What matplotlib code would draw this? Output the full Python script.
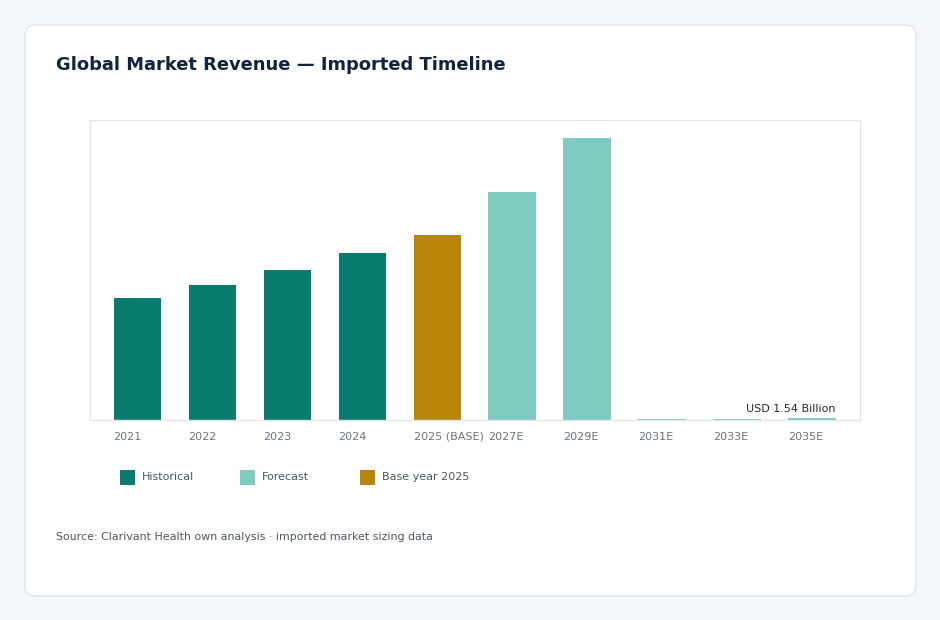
import matplotlib
matplotlib.use("Agg")
import matplotlib.pyplot as plt
from matplotlib.patches import FancyBboxPatch
import numpy as np

# Revenue timeline (chart units)
years = ["2021", "2022", "2023", "2024", "2025 (BASE)", "2027E", "2029E", "2031E", "2033E", "2035E"]
revenue = [122, 135, 150, 167, 185, 228, 282, 1.2, 1.4, 1.54]
kind = ["hist", "hist", "hist", "hist", "base", "fc", "fc", "fc", "fc", "fc"]
last_label = "USD 1.54 Billion"

colors = {"hist": "#0a7c6e", "fc": "#7fcac1", "base": "#b8860b"}
legend_names = [("hist", "Historical"), ("fc", "Forecast"), ("base", "Base year 2025")]

fig = plt.figure(figsize=(9.4, 6.2), dpi=100)
fig.patch.set_facecolor("#f4f7fa")

# white card behind everything
card = FancyBboxPatch((0.25, 0.24), 8.91, 5.71,
                      boxstyle="round,pad=0,rounding_size=0.1",
                      transform=fig.dpi_scale_trans,
                      facecolor="white", edgecolor="#dfe3e8", linewidth=1, zorder=-5)
fig.patches.append(card)

ax = fig.add_axes([90 / 940, 1 - 420 / 620, 770 / 940, 300 / 620])
ax.set_zorder(2)
ax.set_facecolor("white")

x = np.arange(len(years))
w = 0.627
ax.bar(x, revenue, width=w, color=[colors[k] for k in kind], zorder=2)

ax.set_xlim(-0.627, 9.64)
ax.set_ylim(0, 300)
ax.set_yticks([])
ax.set_xticks([])
for s in ax.spines.values():
    s.set_color("#e2e6ea")
    s.set_linewidth(1)

# category labels, left edge on the bar's left edge, common baseline
for xi, lab in zip(x, years):
    ax.text(xi - w / 2, -19.5 / 300, lab, transform=ax.get_xaxis_transform(),
            ha="left", va="baseline", fontsize=8, color="#6b7280", clip_on=False)

ax.annotate(last_label, (x[-1] + w / 2, revenue[-1]), xytext=(0, 3),
            textcoords="offset points", ha="right", va="bottom",
            fontsize=8, color="#1f2937")

fig.text(56 / 940, 1 - 65 / 620, "Global Market Revenue \u2014 Imported Timeline",
         fontsize=12.9, fontweight="bold", color="#13233f", va="center")

# legend drawn by hand: square + label
lx = [120, 240, 360]
for px, (k, name) in zip(lx, legend_names):
    fig.patches.append(FancyBboxPatch((px / 100, (620 - 485) / 100), 0.15, 0.15,
                                      boxstyle="square,pad=0",
                                      transform=fig.dpi_scale_trans,
                                      facecolor=colors[k], edgecolor="none"))
    fig.text((px + 22) / 940, 1 - 477 / 620, name, fontsize=8,
             color="#4b5563", va="center")

fig.text(56 / 940, 1 - 537 / 620,
         "Source: Clarivant Health own analysis \u00b7 imported market sizing data",
         fontsize=7.9, color="#4b5563", va="center")

fig.savefig("out.png", dpi=100, facecolor=fig.get_facecolor())
